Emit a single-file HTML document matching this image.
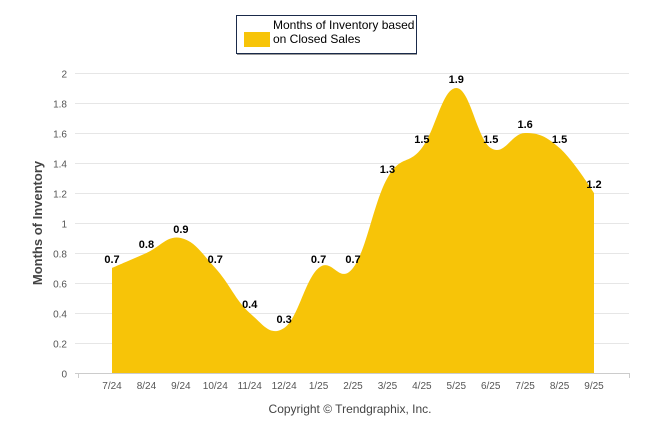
<!DOCTYPE html>
<html><head><meta charset="utf-8"><style>
body{margin:0;background:#fff;}
svg text{font-family:"Liberation Sans",sans-serif;}
</style></head><body>
<svg id="chart" width="646" height="434">
<g>
<rect x="236.5" y="15.5" width="180" height="38" fill="#fff" stroke="#1a2a4a" stroke-width="1"/>
<line x1="237" y1="54.5" x2="417" y2="54.5" stroke="#999"/>
<rect x="244" y="32" width="26" height="15" fill="#f7c408"/>
<text x="273" y="29" font-size="12" fill="#000"><tspan x="273">Months of Inventory based</tspan><tspan x="273" dy="14">on Closed Sales</tspan></text>
</g>
<g id="grid"></g>
<g id="area"></g>
<g id="labels"></g>
<text x="42" y="223" font-size="13" font-weight="bold" fill="#444" text-anchor="middle" transform="rotate(-90 42 223)">Months of Inventory</text>
<text x="350" y="413" font-size="12" fill="#444" text-anchor="middle">Copyright © Trendgraphix, Inc.</text>
</svg>
<script>
const categories=["7/24","8/24","9/24","10/24","11/24","12/24","1/25","2/25","3/25","4/25","5/25","6/25","7/25","8/25","9/25"];
const values=[0.7,0.8,0.9,0.7,0.4,0.3,0.7,0.7,1.3,1.5,1.9,1.5,1.6,1.5,1.2];
const yTicks=[0,0.2,0.4,0.6,0.8,1,1.2,1.4,1.6,1.8,2];
const NS="http://www.w3.org/2000/svg";
const X0=112,X1=594,Y0=373,Y1=73;
const xs=i=>X0+(X1-X0)*i/(categories.length-1);
const ys=v=>Y0-(Y0-Y1)*v/2;
const grid=document.getElementById('grid');
function mk(tag,attrs,parent){const e=document.createElementNS(NS,tag);for(const k in attrs)e.setAttribute(k,attrs[k]);parent.appendChild(e);return e;}
yTicks.forEach(t=>{
 const y=Math.round(ys(t))+0.5;
 const l=mk('line',{x1:75,x2:629,y1:y,y2:y,stroke:t===0?'#ccc':'#e6e6e6'},grid);
 
 
 const tx=mk('text',{x:67,y:y+4,'font-size':10,fill:'#555','text-anchor':'end'},grid);
 tx.textContent=String(t);
 
 
});
categories.forEach((c,i)=>{
 const tx=mk('text',{x:xs(i),y:389,'font-size':10,fill:'#555','text-anchor':'middle'},grid);
 tx.textContent=c;
 
 
});
[78.5,629.5].forEach(x=>{
 const l=mk('line',{x1:x,x2:x,y1:373,y2:378,stroke:'#ccc'},grid);
 
 
});
const pts=values.map((v,i)=>[xs(i),ys(v)]);
let d=`M${pts[0][0]},${Y0} L${pts[0][0]},${pts[0][1]}`;
const sm=1.5;
function ctrl(i){
 const p=pts[i],a=pts[i-1],b=pts[i+1];
 if(!a||!b)return[p,p];
 let lx=(sm*p[0]+a[0])/(sm+1),ly=(sm*p[1]+a[1])/(sm+1);
 let rx=(sm*p[0]+b[0])/(sm+1),ry=(sm*p[1]+b[1])/(sm+1);
 let cor=((ry-ly)*(rx-p[0]))/(rx-lx)+p[1]-ry;
 ly+=cor;ry+=cor;
 return[[lx,ly],[rx,ry]];
}
const cs=pts.map((p,i)=>ctrl(i));
for(let i=1;i<pts.length;i++){
 const c1=cs[i-1][1],c2=cs[i][0],p=pts[i];
 d+=` C${c1[0]},${c1[1]} ${c2[0]},${c2[1]} ${p[0]},${p[1]}`;
}
d+=` L${pts[pts.length-1][0]},${Y0} Z`;
const area=mk('path',{d:d,fill:'#f7c408'},document.getElementById('area'));


const lab=document.getElementById('labels');
values.forEach((v,i)=>{
 const t=mk('text',{x:xs(i),y:ys(v)-5,'font-size':11,'font-weight':'bold',fill:'#000','text-anchor':'middle'},lab);
 t.textContent=v.toFixed(1);
 
 
});
</script>
</body></html>
